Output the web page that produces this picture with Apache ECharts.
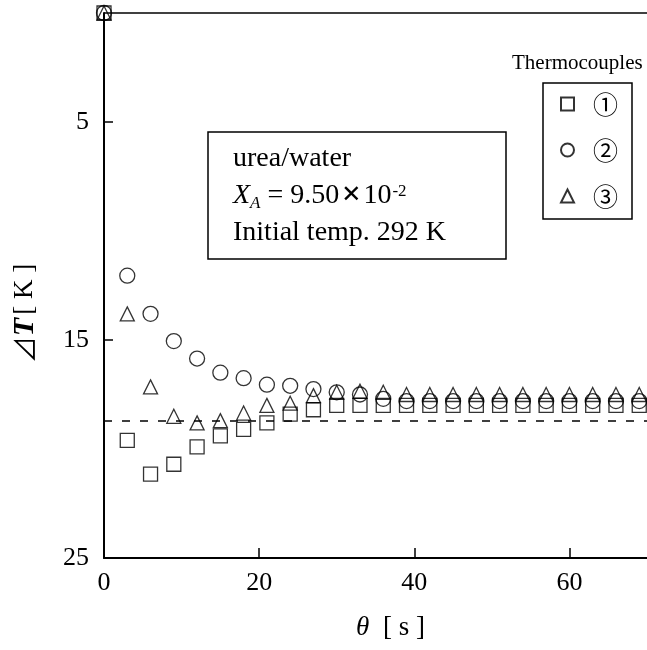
<!DOCTYPE html>
<html>
<head>
<meta charset="utf-8">
<script src="https://cdn.jsdelivr.net/npm/echarts@6/dist/echarts.min.js"></script>
<style>
  html, body { margin: 0; padding: 0; background: #fff; }
</style>
</head>
<body>
<div id="main" style="width: 647px;height:650px;"></div>
<script>
    // 時間 θ [s]
    var time = [0, 3, 6, 9, 12, 15, 18, 21, 24, 27, 30, 33, 36, 39, 42, 45, 48, 51, 54, 57, 60, 63, 66, 69];
    // 熱電対 ① (□)
    var tc1 = [0, 19.6, 21.15, 20.7, 19.9, 19.4, 19.1, 18.8, 18.4, 18.2, 18.0, 18.0, 18.0, 18.0, 18.0, 18.0, 18.0, 18.0, 18.0, 18.0, 18.0, 18.0, 18.0, 18.0];
    // 熱電対 ② (○)
    var tc2 = [0, 12.05, 13.8, 15.05, 15.85, 16.5, 16.75, 17.05, 17.1, 17.25, 17.4, 17.5, 17.7, 17.8, 17.8, 17.8, 17.8, 17.8, 17.8, 17.8, 17.8, 17.8, 17.8, 17.8];
    // 熱電対 ③ (△)
    var tc3 = [0, 13.8, 17.15, 18.5, 18.8, 18.7, 18.35, 18.0, 17.9, 17.55, 17.4, 17.35, 17.4, 17.5, 17.5, 17.5, 17.5, 17.5, 17.5, 17.5, 17.5, 17.5, 17.5, 17.5];
    var names = ['①', '②', '③'];
    var symbols = ['rect', 'circle', 'triangle'];
    var dashedLevel = 18.7;
    var xTicks = [0, 20, 40, 60];
    var yTicks = [5, 15, 25];

    var serif = '"Liberation Serif", "Times New Roman", serif';

    function pairs(ys) {
        return time.map(function (t, i) { return [t, ys[i]]; });
    }

    var myChart = echarts.init(document.getElementById('main'));
    var allData = [tc1, tc2, tc3];
    var series = allData.map(function (d, i) {
        var s = {
            name: names[i],
            type: 'scatter',
            symbol: symbols[i],
            symbolSize: i === 1 ? 15 : 14,
            clip: false,
            itemStyle: { color: 'rgba(255,255,255,0)', borderColor: '#000', borderWidth: 1.3 },
            data: pairs(d)
        };
        if (i === 0) {
            // 破線と上枠
            s.markLine = {
                silent: true,
                symbol: ['none', 'none'],
                label: { show: false },
                data: [
                    { yAxis: dashedLevel, lineStyle: { color: '#000', type: [8, 10], width: 1.6 } },
                    { yAxis: 0, lineStyle: { color: '#000', type: 'solid', width: 1.5 } }
                ]
            };
        }
        return s;
    });

    var option = {
        animation: false,
        backgroundColor: '#fff',
        grid: { left: 104, right: 0, top: 13, bottom: 92 },
        xAxis: {
            type: 'value', min: 0, max: 70, interval: 20,
            name: '{i|θ}  [ s ]',
            nameLocation: 'middle', nameGap: 56,
            nameTextStyle: {
                fontFamily: serif, fontSize: 27, color: '#000', padding: [0, 0, 0, 30],
                rich: { i: { fontFamily: serif, fontStyle: 'italic', fontSize: 27, color: '#000' } }
            },
            axisLine: { onZero: false, lineStyle: { color: '#000', width: 2 } },
            axisTick: { inside: true, length: 10, lineStyle: { color: '#000', width: 1.5 }, customValues: [20, 40, 60] },
            axisLabel: { fontFamily: serif, fontSize: 26, color: '#000', margin: 12, customValues: xTicks },
            splitLine: { show: false }
        },
        yAxis: {
            type: 'value', min: 0, max: 25, inverse: true,
            name: '{d|⊿}{t|T}{n|[ K ]}',
            nameLocation: 'middle', nameRotate: 90, nameGap: 64,
            nameTextStyle: {
                color: '#000', padding: [0, 56, 0, 0],
                rich: {
                    d: { fontFamily: '"Noto Sans CJK JP"', fontSize: 27, color: '#000' },
                    t: { fontFamily: serif, fontStyle: 'italic', fontWeight: 'bold', fontSize: 30, color: '#000' },
                    n: { fontFamily: serif, fontSize: 27, color: '#000', padding: [0, 0, 0, 3] }
                }
            },
            axisLine: { onZero: false, lineStyle: { color: '#000', width: 2 } },
            axisTick: { inside: true, length: 9, lineStyle: { color: '#000', width: 1.5 }, customValues: [5, 15] },
            axisLabel: { fontFamily: serif, fontSize: 26, color: '#000', margin: 15, customValues: yTicks },
            splitLine: { show: false }
        },
        legend: {
            orient: 'vertical',
            left: 543, top: 83,
            padding: [8, 14, 10, 17],
            itemGap: 20,
            itemWidth: 13, itemHeight: 13,
            borderColor: '#000', borderWidth: 1.5,
            textStyle: { fontFamily: '"Noto Sans CJK JP"', fontSize: 25, lineHeight: 26, color: '#000', padding: [0, 0, 0, 14] },
            data: names
        },
        graphic: [{
            type: 'rect',
            shape: { x: 208, y: 132, width: 298, height: 127 },
            style: { fill: '#fff', stroke: '#000', lineWidth: 1.5 },
            z: 10
        }, {
            type: 'text',
            left: 233, top: 140,
            z: 11,
            style: {
                text: 'urea/water\n{x|X}{s|A}{r| = 9.50}{m|✕}{r|10}{p|-2}\nInitial temp. 292 K',
                fontFamily: serif, fontSize: 28, lineHeight: 37, fill: '#000',
                rich: {
                    x: { fontFamily: serif, fontStyle: 'italic', fontSize: 28, lineHeight: 37, fill: '#000' },
                    s: { fontFamily: serif, fontStyle: 'italic', fontSize: 17, lineHeight: 37, verticalAlign: 'bottom', padding: [0, 0, 2, 0], fill: '#000' },
                    r: { fontFamily: serif, fontSize: 28, lineHeight: 37, fill: '#000' },
                    m: { fontFamily: '"DejaVu Sans"', fontSize: 24, lineHeight: 37, fill: '#000', padding: [0, 2, 0, 2] },
                    p: { fontFamily: serif, fontSize: 17, lineHeight: 37, verticalAlign: 'top', padding: [6, 0, 0, 1], fill: '#000' }
                }
            }
        }, {
            type: 'text',
            left: 512, top: 53,
            style: { text: 'Thermocouples', fontFamily: serif, fontSize: 21, fill: '#000' }
        }],
        series: series
    };
    myChart.setOption(option);
</script>
</body>
</html>
